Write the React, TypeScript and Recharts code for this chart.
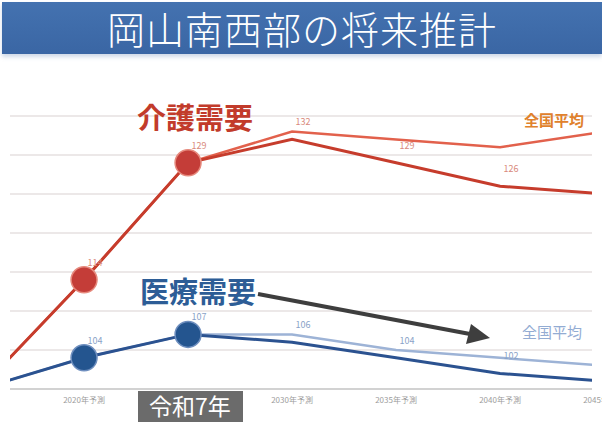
import React from "react";
import { CartesianGrid, LabelList, Line, LineChart, XAxis, YAxis } from "recharts";

const years = [2015, 2020, 2025, 2030, 2035, 2040, 2045];
const kaigoLocal = [100, 114, 129, 132, 129, 126, 125];
const kaigoNational = [100, 114, 129, 133, 132, 131, 133];
const iryoLocal = [100, 104, 107, 106, 104, 102, 101];
const iryoNational = [100, 104, 107, 107, 105, 104, 103];
const markedYears = [2020, 2025];
const yTicks = [100, 105, 110, 115, 120, 125, 130, 135];
const xTicks = [2020, 2025, 2030, 2035, 2040, 2045];

const data = years.map((year, i) => ({
  year,
  kaigoLocal: kaigoLocal[i],
  kaigoNational: kaigoNational[i],
  iryoLocal: iryoLocal[i],
  iryoNational: iryoNational[i],
}));

const font = '"Noto Sans CJK JP", "Noto Sans", sans-serif';

function bigDot(fill: string, stroke: string) {
  return (props: any) => {
    const { cx, cy, payload, index } = props;
    if (!markedYears.includes(payload.year)) return <g key={`d-${index}`} />;
    return <circle key={`d-${index}`} cx={cx} cy={cy} r={13} fill={fill} stroke={stroke} strokeWidth={1.5} />;
  };
}

// value labels sit up and right of the point; skip the ones outside the plot
function valueLabel(color: string) {
  return (props: any) => {
    const { x, y, value } = props;
    if (x < 10 || x > 592) return null;
    return (
      <text x={x + 11} y={y - 14} fontSize={9} fill={color} fontFamily={font} textAnchor="middle">
        {value}
      </text>
    );
  };
}

export default function App() {
  return (
    <div style={{ position: "fixed", left: 0, top: 0, width: 602, height: 427, background: "#fff", overflow: "hidden" }}>
      <div
        style={{
          position: "absolute",
          left: 2,
          top: 2,
          width: 600,
          height: 52,
          background: "linear-gradient(#4472b0, #3a66a4)",
          boxShadow: "0 3px 4px rgba(120,150,190,0.35)",
          color: "#fff",
          fontFamily: font,
          fontWeight: 300,
          fontSize: 38,
          lineHeight: "52px",
          textAlign: "center",
          letterSpacing: 1,
        }}
      >
        岡山南西部の将来推計
      </div>
      <div style={{ position: "absolute", left: 0, top: 0 }}>
        <LineChart width={602} height={427} data={data} margin={{ top: 116, right: 10, bottom: 18, left: 10 }}>
          <CartesianGrid horizontal vertical={false} stroke="#e6e0e0" strokeWidth={1.5} />
          <XAxis
            dataKey="year"
            type="number"
            domain={[2016.44, 2044.42]}
            allowDataOverflow
            ticks={xTicks}
            interval={0}
            height={20}
            tickLine={false}
            axisLine={{ stroke: "#d2d2d2", strokeWidth: 2 }}
            tickMargin={2}
            tick={{ fontSize: 8, fill: "#9c9c9c", fontFamily: font }}
            tickFormatter={(v) => (v === 2025 ? "" : `${v}年予測`)}
          />
          <YAxis hide domain={[100, 135]} ticks={yTicks} />
          <Line dataKey="kaigoNational" stroke="#e2614c" strokeWidth={2.5} dot={false} isAnimationActive={false} />
          <Line dataKey="iryoNational" stroke="#9db3d6" strokeWidth={2.5} dot={false} isAnimationActive={false} />
          <Line
            dataKey="kaigoLocal"
            stroke="#c63c2c"
            strokeWidth={3}
            dot={bigDot("#c43d38", "#e68a7e")}
            isAnimationActive={false}
          >
            <LabelList dataKey="kaigoLocal" content={valueLabel("#d98a7c")} />
          </Line>
          <Line
            dataKey="iryoLocal"
            stroke="#2b5290"
            strokeWidth={3}
            dot={bigDot("#24558f", "#6f8fbf")}
            isAnimationActive={false}
          >
            <LabelList dataKey="iryoLocal" content={valueLabel("#8aa3c8")} />
          </Line>
        </LineChart>
      </div>
      <svg width={602} height={427} style={{ position: "absolute", left: 0, top: 0 }}>
        <text x={195} y={129} fontSize={29} fontWeight={700} fill="#c23b2b" fontFamily={font} textAnchor="middle">
          介護需要
        </text>
        <text x={198} y={303} fontSize={29} fontWeight={700} fill="#2d5d96" fontFamily={font} textAnchor="middle">
          医療需要
        </text>
        <text x={554} y={126} fontSize={15} fontWeight={700} fill="#e0812c" fontFamily={font} textAnchor="middle">
          全国平均
        </text>
        <text x={552} y={338} fontSize={15} fill="#93acd3" fontFamily={font} textAnchor="middle">
          全国平均
        </text>
        <line x1={258} y1={294} x2={470} y2={334} stroke="#3e3e3e" strokeWidth={4} />
        <polygon points="490,338 466,344 471,324" fill="#3e3e3e" />
        <rect x={138} y={391} width={105} height={31} fill="#6b6b6b" />
        <text x={190} y={415} fontSize={23} fill="#fff" fontFamily={font} textAnchor="middle">
          令和7年
        </text>
      </svg>
    </div>
  );
}
